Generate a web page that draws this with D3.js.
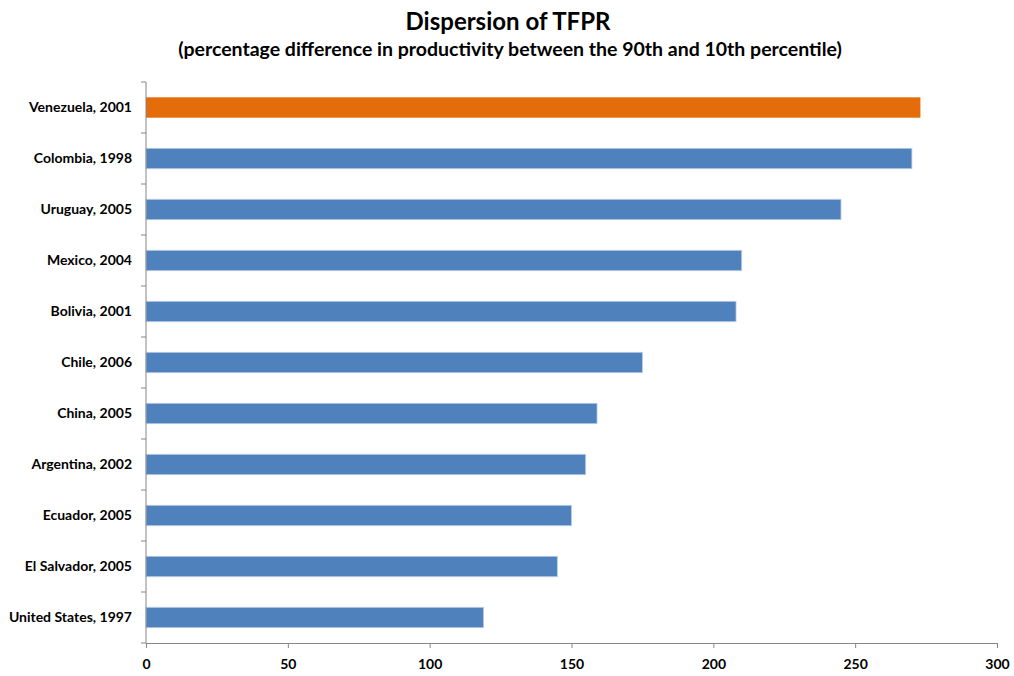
<!DOCTYPE html>
<html>
<head>
<meta charset="utf-8">
<script src="https://cdn.jsdelivr.net/npm/d3@7"></script>
<style>
  body { margin: 0; background: #fff; }
  text { font-family: Lato, "Open Sans", sans-serif; font-weight: bold; fill: #000; }
</style>
</head>
<body>
<div class="container"></div>
<script>
let countries = ["Venezuela, 2001", "Colombia, 1998", "Uruguay, 2005", "Mexico, 2004", "Bolivia, 2001",
                 "Chile, 2006", "China, 2005", "Argentina, 2002", "Ecuador, 2005", "El Salvador, 2005", "United States, 1997"]
let tfpr = [273, 270, 245, 210, 208, 175, 159, 155, 150, 145, 119]
let highlight = "Venezuela, 2001"
let xTicks = [0, 50, 100, 150, 200, 250, 300]

const width = 1014
const height = 676
const plotLeft = 146, plotRight = 997, plotTop = 82, plotBottom = 643

const svg = d3.select(".container").append("svg")
              .attr("width", width)
              .attr("height", height)

const x = d3.scaleLinear().domain([0, 300]).range([plotLeft, plotRight])
const y = d3.scaleBand().domain(countries).range([plotTop, plotBottom]).paddingInner(0.6).paddingOuter(0.3)

svg.append("text")
   .attr("x", 508).attr("y", 30)
   .attr("text-anchor", "middle")
   .style("font-size", "24px")
   .text("Dispersion of TFPR")

svg.append("text")
   .attr("x", 510).attr("y", 56)
   .attr("text-anchor", "middle")
   .style("font-size", "19.5px")
   .text("(percentage difference in productivity between the 90th and 10th percentile)")

svg.selectAll("rect.bar")
   .data(countries)
   .enter()
   .append("rect")
   .attr("class", "bar")
   .attr("x", x(0))
   .attr("y", d => y(d))
   .attr("width", (d, i) => x(tfpr[i]) - x(0))
   .attr("height", y.bandwidth())
   .attr("fill", d => d === highlight ? "#E46C0A" : "#4F81BD")
   .attr("stroke", d => d === highlight ? "none" : "#B9CDE5")
   .attr("stroke-width", 0.8)

// y axis: ticks between categories
const yAxis = svg.append("g")
yAxis.append("line")
     .attr("x1", plotLeft).attr("x2", plotLeft)
     .attr("y1", plotTop).attr("y2", plotBottom)
     .attr("stroke", "#868686")
yAxis.selectAll("line.tick")
     .data(d3.range(countries.length + 1))
     .enter()
     .append("line")
     .attr("x1", plotLeft - 5).attr("x2", plotLeft)
     .attr("y1", i => plotTop + i * (plotBottom - plotTop) / countries.length)
     .attr("y2", i => plotTop + i * (plotBottom - plotTop) / countries.length)
     .attr("stroke", "#868686")
yAxis.selectAll("text")
     .data(countries)
     .enter()
     .append("text")
     .attr("x", 132)
     .attr("y", d => y(d) + y.bandwidth() / 2)
     .attr("dy", "0.35em")
     .attr("text-anchor", "end")
     .style("font-size", "14px")
     .text(d => d)

const xAxis = svg.append("g")
     .attr("transform", `translate(0,${plotBottom})`)
     .call(d3.axisBottom(x).tickValues(xTicks).tickSize(5).tickPadding(11))
xAxis.select(".domain").attr("stroke", "#868686")
xAxis.selectAll(".tick line").attr("stroke", "#868686")
xAxis.selectAll(".tick text")
     .style("font-size", "14px")
     .style("font-family", "Lato, sans-serif")
     .style("font-weight", "bold")
</script>
</body>
</html>
